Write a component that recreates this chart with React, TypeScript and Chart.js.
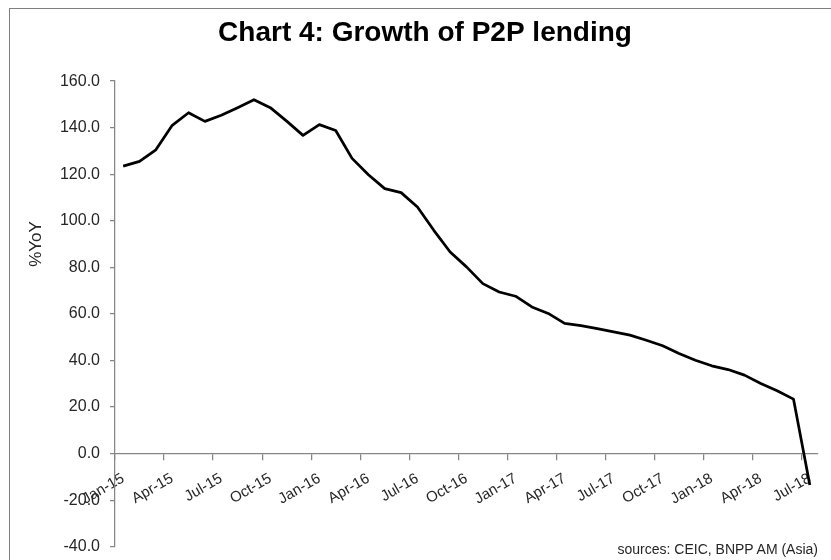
import React, { useEffect, useRef } from "react";
import { Chart, registerables } from "chart.js";

Chart.register(...registerables);

const MONTHS = ["Jan", "Feb", "Mar", "Apr", "May", "Jun", "Jul", "Aug", "Sep", "Oct", "Nov", "Dec"];
const YEARS = ["15", "16", "17", "18"];
const categories: string[] = [];
YEARS.forEach((y) => MONTHS.forEach((m) => categories.push(`${m}-${y}`)));
const labels = categories.slice(0, 43); // Jan-15 .. Jul-18

const p2pGrowth = [
  123.5, 125.5, 130.5, 141.0, 146.4, 142.7, 145.3, 148.6, 152.0, 148.6, 142.8, 136.7,
  141.3, 138.8, 126.8, 119.8, 113.8, 112.1, 105.9, 95.9, 86.6, 80.2, 73.0, 69.4,
  67.6, 63.0, 60.2, 55.9, 55.0, 53.7, 52.3, 50.9, 48.7, 46.3, 43.0, 40.1,
  37.7, 36.1, 33.7, 30.1, 27.0, 23.4, -13.5,
];

const yMin = -40;
const yMax = 160;
const yStep = 20;

const titleText = "Chart 4: Growth of P2P lending";
const yTitle = "%YoY";
const sourceText = "sources: CEIC, BNPP AM (Asia)";

const FONT = "'Liberation Sans', Arial, sans-serif";
const AXIS = "#868686";
const TEXT = "#262626";

export default function App() {
  const ref = useRef<HTMLCanvasElement | null>(null);

  useEffect(() => {
    if (!ref.current) return;
    const chart = new Chart(ref.current, {
      type: "line",
      data: {
        labels,
        datasets: [
          {
            data: p2pGrowth,
            borderColor: "#000000",
            borderWidth: 2.75,
            borderJoinStyle: "round",
            pointRadius: 0,
            tension: 0,
            fill: false,
          },
        ],
      },
      options: {
        animation: false,
        responsive: false,
        maintainAspectRatio: false,
        layout: { padding: { left: 32, right: 13, top: 0, bottom: 13.3 } },
        plugins: {
          legend: { display: false },
          tooltip: { enabled: false },
          title: {
            display: true,
            text: titleText,
            color: "#000000",
            font: { family: FONT, size: 28, weight: "bold" },
            padding: { top: 16, bottom: 31.5 },
          },
        },
        scales: {
          x: {
            type: "category",
            offset: true,
            position: { y: 0 } as any,
            border: { display: true, color: AXIS, width: 1.25 },
            grid: {
              offset: true,
              drawOnChartArea: false,
              drawTicks: true,
              tickLength: 6,
              lineWidth: 1.25,
              color: (ctx: any) =>
                ctx.index !== undefined && ctx.index % 3 === 0 ? AXIS : "rgba(0,0,0,0)",
            },
            ticks: {
              autoSkip: false,
              minRotation: 30,
              maxRotation: 30,
              padding: 10,
              color: TEXT,
              font: { family: FONT, size: 15 },
              callback: (_v: any, i: number) => (i % 3 === 0 ? labels[i] : ""),
            },
          },
          y: {
            min: yMin,
            max: yMax,
            afterFit: (scale: any) => {
              scale.width = 83;
              scale.paddingBottom = 0;
            },
            border: { display: true, color: AXIS, width: 1.25 },
            grid: {
              drawOnChartArea: false,
              drawTicks: true,
              tickLength: 5,
              lineWidth: 1.25,
              color: AXIS,
            },
            ticks: {
              stepSize: yStep,
              padding: 10,
              color: TEXT,
              font: { family: FONT, size: 16 },
              callback: (v: any) => Number(v).toFixed(1),
            },
          },
        },
      },
    });
    return () => chart.destroy();
  }, []);

  return (
    <div
      style={{
        position: "fixed",
        left: 0,
        top: 0,
        width: 831,
        height: 560,
        overflow: "hidden",
        background: "#ffffff",
      }}
    >
      <canvas ref={ref} width={831} height={560} style={{ position: "absolute", left: 0, top: 0 }} />
      <div
        style={{
          position: "absolute",
          left: 9,
          top: 8,
          width: 900,
          height: 700,
          borderTop: "1.5px solid #7f7f7f",
          borderLeft: "1.5px solid #7f7f7f",
          pointerEvents: "none",
        }}
      />
      <div
        style={{
          position: "absolute",
          left: 35,
          top: 244,
          transform: "translate(-50%, -50%) rotate(-90deg)",
          fontFamily: FONT,
          fontSize: 17,
          color: TEXT,
          whiteSpace: "nowrap",
          lineHeight: 1,
        }}
      >
        {yTitle}
      </div>
      <div
        style={{
          position: "absolute",
          right: 13,
          top: 542,
          fontFamily: FONT,
          fontSize: 14,
          color: TEXT,
          whiteSpace: "nowrap",
          lineHeight: 1,
        }}
      >
        {sourceText}
      </div>
    </div>
  );
}
